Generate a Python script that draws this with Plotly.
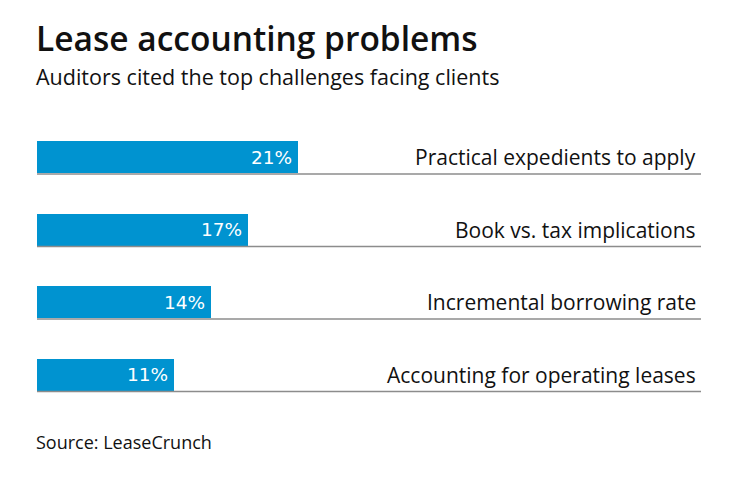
import plotly.graph_objects as go

categories = ["Practical expedients to apply", "Book vs. tax implications",
              "Incremental borrowing rate", "Accounting for operating leases"]
values = [21, 17, 14, 11]
value_labels = ["21%", "17%", "14%", "11%"]

title = "Lease accounting problems"
subtitle = "Auditors cited the top challenges facing clients"
source = "Source: LeaseCrunch"

BAR = "#0093d0"
# page body has an 8px margin; figure is placed at (8, 8)
OFF = 8
W, H = 740 - OFF, 482 - OFF
L, R, T, B = 37 - OFF, 740 - 701, 121 - OFF, 482 - 411
ph = H - T - B

def py(px):
    # reference page y pixel -> paper coordinate
    return (482 - B - px) / ph

FONT = "Open Sans"

fig = go.Figure()
fig.add_trace(go.Bar(
    x=values, y=categories, orientation="h",
    marker=dict(color=BAR, line=dict(width=0)),
    width=0.437, hoverinfo="skip",
))

shapes = []
annotations = []
for i, (c, v, lab) in enumerate(zip(categories, values, value_labels)):
    shapes.append(dict(type="line", xref="paper", yref="y",
                       x0=0, x1=1, y0=i + 0.232, y1=i + 0.232,
                       line=dict(color="#8c8c8c", width=1.5)))
    annotations.append(dict(xref="paper", yref="y", x=1, y=i, text=c,
                            xanchor="right", yanchor="middle", showarrow=False,
                            xshift=-3,
                            font=dict(family=FONT, size=21, color="#111111")))
    annotations.append(dict(xref="x", yref="y", x=v, y=i, text=lab,
                            xanchor="right", yanchor="middle", xshift=-4,
                            showarrow=False,
                            font=dict(family="DejaVu Sans", size=18.5, color="white")))

annotations += [
    dict(xref="paper", yref="paper", x=0, y=py(38.5), text=title,
         xanchor="left", yanchor="middle", showarrow=False, xshift=-3,
         font=dict(family=FONT, size=33.5, color="#111111", weight=600)),
    dict(xref="paper", yref="paper", x=0, y=py(76.5), text=subtitle,
         xanchor="left", yanchor="middle", showarrow=False, xshift=-3,
         font=dict(family=FONT, size=21.5, color="#111111")),
    dict(xref="paper", yref="paper", x=0, y=py(442), text=source,
         xanchor="left", yanchor="middle", showarrow=False, xshift=-3,
         font=dict(family=FONT, size=18, color="#111111")),
]

fig.update_layout(
    width=W, height=H,
    margin=dict(l=L, r=R, t=T, b=B),
    paper_bgcolor="white", plot_bgcolor="white",
    showlegend=False,
    xaxis=dict(range=[0, 53.5], visible=False, fixedrange=True),
    yaxis=dict(range=[3.5, -0.5], visible=False, fixedrange=True,
               categoryorder="array", categoryarray=categories),
    shapes=shapes, annotations=annotations,
    bargap=0,
)

fig.write_html("out.html", config={"displayModeBar": False})
